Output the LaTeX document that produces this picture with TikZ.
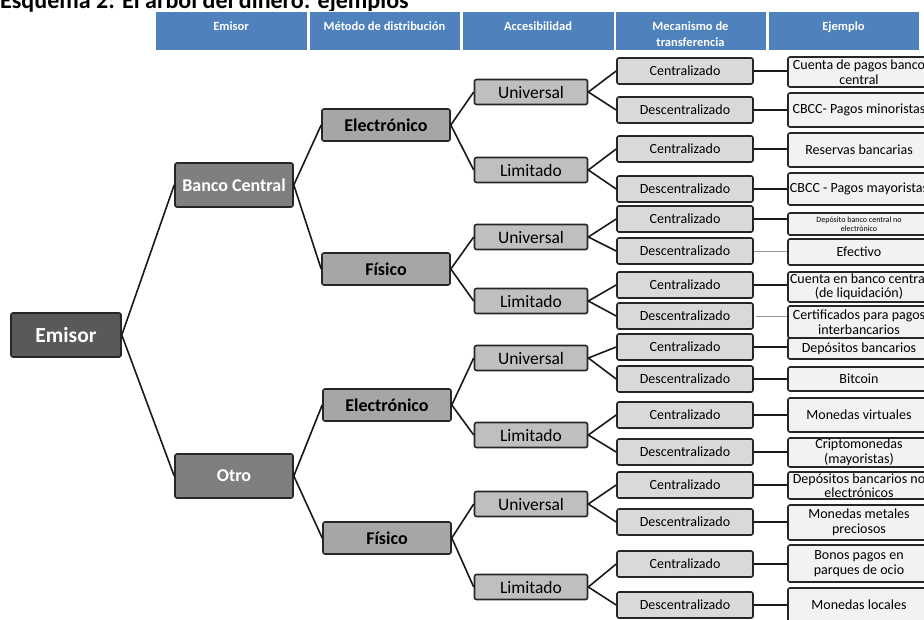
\documentclass[tikz,border=0pt]{standalone}
\usepackage{fontspec}
\setmainfont{Carlito}
\usepackage{tikz}

\definecolor{hdrblue}{HTML}{4F81BD}
\definecolor{gris1}{HTML}{595959}
\definecolor{gris2}{HTML}{7F7F7F}
\definecolor{gris3}{HTML}{A6A6A6}
\definecolor{gris4}{HTML}{BFBFBF}
\definecolor{gris5}{HTML}{D9D9D9}
\definecolor{gris6}{HTML}{F2F2F2}

\newcommand{\fs}[1]{\fontsize{#1}{#1}\selectfont}
\newcommand{\cab}{\rule{0pt}{14pt}}

\begin{document}
\begin{tikzpicture}[x=1pt, y=-1pt,
    box/.style={draw=black!85, rounded corners=2pt, line width=1.6pt, inner sep=0pt, align=center},
    raiz/.style={box, fill=gris1, text=white, font=\bfseries\fs{21.5}, minimum width=110, minimum height=44},
    tipo/.style={box, fill=gris2, text=white, font=\bfseries\fs{18}, minimum width=118, minimum height=44},
    distrib/.style={box, fill=gris3, font=\bfseries\fs{18}, minimum width=128, minimum height=32},
    acceso/.style={box, fill=gris4, font=\fs{17.5}, minimum width=113, minimum height=25},
    mecan/.style={box, fill=gris5, font=\fs{14}, minimum width=136, minimum height=26},
    ejemplo/.style={box, fill=gris6, font=\fontsize{14}{14.5}\selectfont, minimum width=142},
    cabecera/.style={draw=white, line width=1pt, fill=hdrblue, text=white, font=\bfseries\fs{12.5}, align=center, inner sep=0pt, minimum height=39},
    rama/.style={line width=1.6pt, black!90},
    rama gris/.style={line width=0.8pt, black!40}]

  \useasboundingbox (0,0) rectangle (924,620);
  \clip (0,0) rectangle (924,620);

  % titulo y cabecera
  \node[anchor=base west, inner sep=0pt, font=\bfseries\fs{24}] (titulo) at (0,9) {Esquema 2: El árbol del dinero: ejemplos};
  \node[cabecera, minimum width=152] (h1) at (231,31.5) {\cab Emisor\\[3pt]\mbox{}};
  \node[cabecera, minimum width=151] (h2) at (384.5,31.5) {\cab Método de distribución\\[3pt]\mbox{}};
  \node[cabecera, minimum width=152] (h3) at (538,31.5) {\cab Accesibilidad\\[3pt]\mbox{}};
  \node[cabecera, minimum width=151] (h4) at (690.5,31.5) {\cab Mecanismo de\\[3pt]transferencia};
  \node[cabecera, minimum width=151] (h5) at (843.5,31.5) {\cab Ejemplo\\[3pt]\mbox{}};

  % emisor y metodo
  \node[raiz] (emisor) at (66,335) {Emisor};
  \node[tipo] (bc) at (234,185) {Banco Central};
  \node[tipo] (otro) at (234,476) {Otro};
  \node[distrib] (bc-e) at (386,125) {Electrónico};
  \node[distrib] (bc-f) at (386,269) {Físico};
  \node[distrib] (ot-e) at (387,405) {Electrónico};
  \node[distrib] (ot-f) at (387,538) {Físico};

  % accesibilidad
  \node[acceso] (a1) at (531,92) {Universal};
  \node[acceso] (a2) at (531,170) {Limitado};
  \node[acceso] (a3) at (531,237) {Universal};
  \node[acceso] (a4) at (531,301) {Limitado};
  \node[acceso] (a5) at (531,358) {Universal};
  \node[acceso] (a6) at (531,435) {Limitado};
  \node[acceso] (a7) at (531,504) {Universal};
  \node[acceso] (a8) at (531,587) {Limitado};

  % mecanismo de transferencia
  \foreach \yc/\yd [count=\i] in {71/110, 149/189, 219/251, 285/316, 347/379, 415/452, 485/522, 564/605} {
    \node[mecan] (c\i) at (685,\yc) {Centralizado};
    \node[mecan] (d\i) at (685,\yd) {Descentralizado};
  }

  % ejemplos
  \node[ejemplo, minimum height=30] (xc1) at (859,72) {Cuenta de pagos banco\\central};
  \node[ejemplo, minimum height=34] (xd1) at (859,110) {CBCC- Pagos minoristas};
  \node[ejemplo, minimum height=34] (xc2) at (859,150) {Reservas bancarias};
  \node[ejemplo, minimum height=32] (xd2) at (859,189) {CBCC - Pagos mayoristas};
  \node[ejemplo, minimum height=22, font=\fontsize{8}{9}\selectfont] (xc3) at (859,224) {Depósito banco central no\\electrónico};
  \node[ejemplo, minimum height=26] (xd3) at (859,252) {Efectivo};
  \node[ejemplo, minimum height=30] (xc4) at (859,287) {Cuenta en banco central\\(de liquidación)};
  \node[ejemplo, minimum height=32] (xd4) at (859,322) {Certificados para pagos\\interbancarios};
  \node[ejemplo, minimum height=21] (xc5) at (859,348.5) {Depósitos bancarios};
  \node[ejemplo, minimum height=24] (xd5) at (859,379) {Bitcoin};
  \node[ejemplo, minimum height=34] (xc6) at (859,415) {Monedas virtuales};
  \node[ejemplo, minimum height=29] (xd6) at (859,452.5) {Criptomonedas\\(mayoristas)};
  \node[ejemplo, minimum height=27] (xc7) at (859,485.5) {Depósitos bancarios no\\electrónicos};
  \node[ejemplo, minimum height=35] (xd7) at (859,522.5) {Monedas metales\\preciosos};
  \node[ejemplo, minimum height=37] (xc8) at (859,563.5) {Bonos pagos en\\parques de ocio};
  \node[ejemplo, minimum height=34] (xd8) at (859,605) {Monedas locales};

  % ramas
  \draw[rama] (emisor.east) -- (bc.west) (emisor.east) -- (otro.west);
  \draw[rama] (bc.east) -- (bc-e.west) (bc.east) -- (bc-f.west);
  \draw[rama] (otro.east) -- (ot-e.west) (otro.east) -- (ot-f.west);
  \draw[rama] (bc-e.east) -- (a1.west) (bc-e.east) -- (a2.west);
  \draw[rama] (bc-f.east) -- (a3.west) (bc-f.east) -- (a4.west);
  \draw[rama] (ot-e.east) -- (a5.west) (ot-e.east) -- (a6.west);
  \draw[rama] (ot-f.east) -- (a7.west) (ot-f.east) -- (a8.west);
  \foreach \i in {1,...,8}
    \draw[rama] (a\i.east) -- (c\i.west) (a\i.east) -- (d\i.west);
  \foreach \i in {1,...,8}
    \draw[rama] (c\i.east) -- (c\i.east -| xc\i.west);
  \foreach \i in {1,2,5,6,7,8}
    \draw[rama] (d\i.east) -- (d\i.east -| xd\i.west);
  \draw[rama gris] (d3.east) -- (d3.east -| xd3.west);
  \draw[rama gris] ([xshift=2pt]d4.east) -- (d4.east -| xd4.west);
\end{tikzpicture}
\end{document}
